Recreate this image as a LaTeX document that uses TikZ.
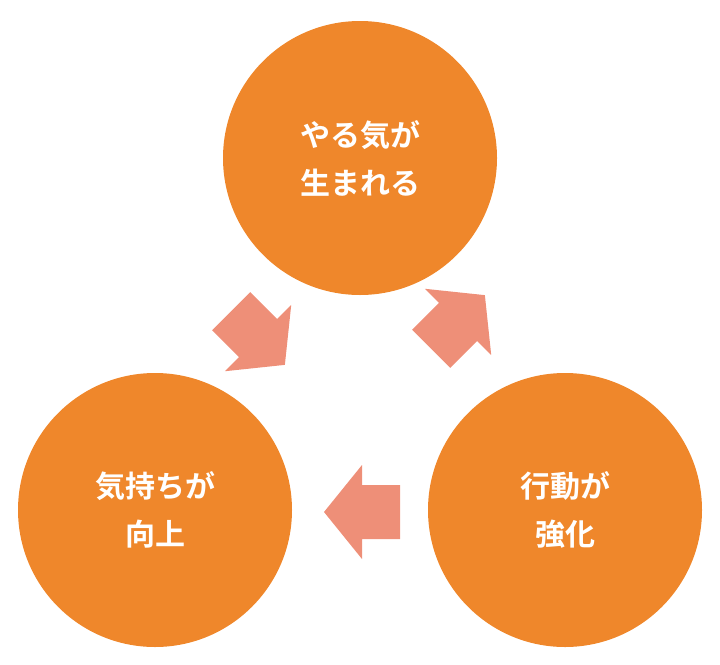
\documentclass[tikz,border=0pt]{standalone}
\usepackage{fontspec}
\newfontfamily\jp{Noto Sans CJK JP Bold}
\tikzset{circ/.style={circle,fill=orangeA,minimum size=274pt,inner sep=0pt,text=white,font=\jp\fontsize{30}{48}\selectfont,align=center},
 blk/.style={fill=salmonA}}
\definecolor{orangeA}{HTML}{EF872B}
\definecolor{salmonA}{HTML}{EE8F78}
\begin{document}
\begin{tikzpicture}[x=1pt,y=-1pt]
\useasboundingbox (0,0) rectangle (720,664);
\node[circ] (top) at (360,158) {やる気が\\生まれる};
\node[circ] (left) at (155,510) {気持ちが\\向上};
\node[circ] (right) at (565,510) {行動が\\強化};
\def\blockarrow{(-38,-27) -- (0,-27) -- (0,-47) -- (38,0) -- (0,47) -- (0,27) -- (-38,27) -- cycle}
\fill[blk,shift={(458,322)},rotate=45] \blockarrow;
\fill[blk,shift={(362,512)},rotate=180] \blockarrow;
\fill[blk,shift={(258,338)},rotate=-45] \blockarrow;
\end{tikzpicture}
\end{document}
